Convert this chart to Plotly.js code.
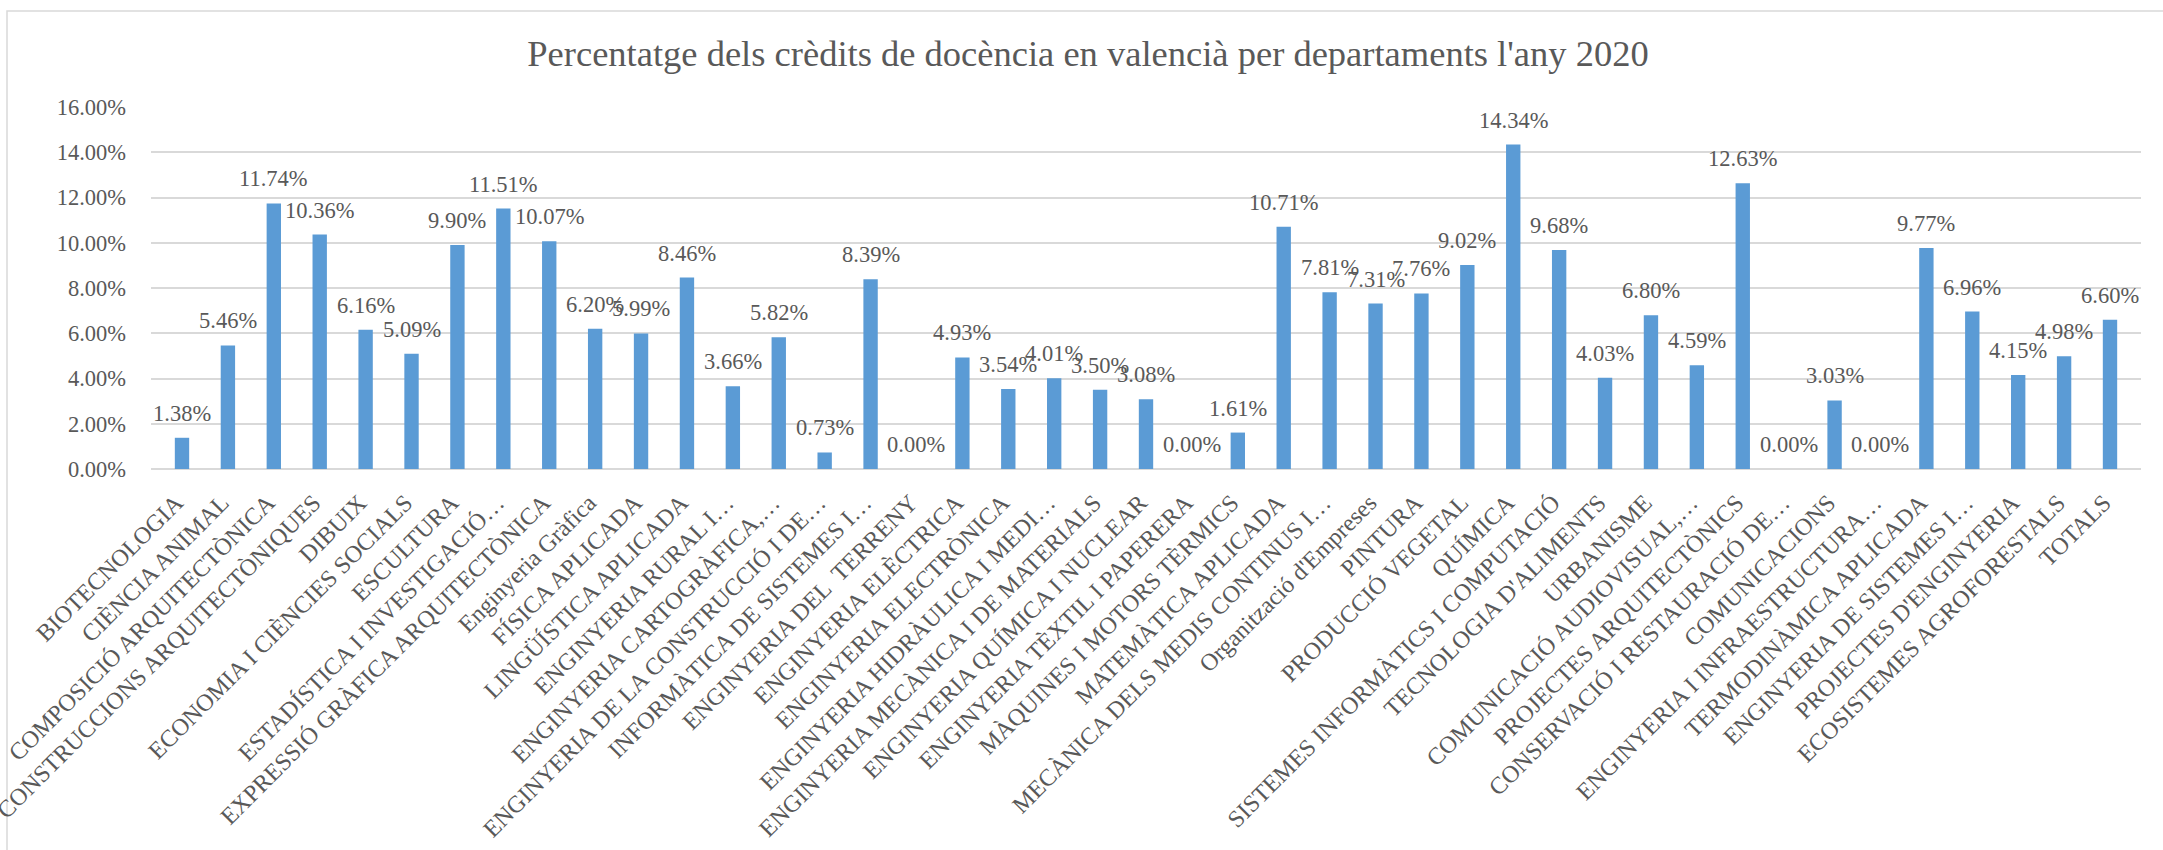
<!DOCTYPE html>
<html>
<head>
<meta charset="utf-8">
<script src="https://cdn.plot.ly/plotly-3.0.1.min.js"></script>
<style>
  html, body { margin: 0; padding: 0; background: #ffffff; }
  #chart { width: 2163px; height: 850px; }
</style>
</head>
<body>
<div id="chart"></div>
<script>
const departments = [
  "BIOTECNOLOGIA",
  "CIÈNCIA ANIMAL",
  "COMPOSICIÓ ARQUITECTÒNICA",
  "CONSTRUCCIONS ARQUITECTÒNIQUES",
  "DIBUIX",
  "ECONOMIA I CIÈNCIES SOCIALS",
  "ESCULTURA",
  "ESTADÍSTICA I INVESTIGACIÓ…",
  "EXPRESSIÓ GRÀFICA ARQUITECTÒNICA",
  "Enginyeria Gràfica",
  "FÍSICA APLICADA",
  "LINGÜÍSTICA APLICADA",
  "ENGINYERIA RURAL I…",
  "ENGINYERIA CARTOGRÀFICA,…",
  "ENGINYERIA DE LA CONSTRUCCIÓ I DE…",
  "INFORMÀTICA DE SISTEMES I…",
  "ENGINYERIA DEL  TERRENY",
  "ENGINYERIA ELÈCTRICA",
  "ENGINYERIA ELECTRÒNICA",
  "ENGINYERIA HIDRÀULICA I MEDI…",
  "ENGINYERIA MECÀNICA I DE MATERIALS",
  "ENGINYERIA QUÍMICA I NUCLEAR",
  "ENGINYERIA TÈXTIL I PAPERERA",
  "MÀQUINES I MOTORS TÈRMICS",
  "MATEMÀTICA APLICADA",
  "MECÀNICA DELS MEDIS CONTINUS I…",
  "Organització d'Empreses",
  "PINTURA",
  "PRODUCCIÓ VEGETAL",
  "QUÍMICA",
  "SISTEMES INFORMÀTICS I COMPUTACIÓ",
  "TECNOLOGIA D'ALIMENTS",
  "URBANISME",
  "COMUNICACIÓ AUDIOVISUAL,…",
  "PROJECTES ARQUITECTÒNICS",
  "CONSERVACIÓ I RESTAURACIÓ DE…",
  "COMUNICACIONS",
  "ENGINYERIA I INFRAESTRUCTURA…",
  "TERMODINÀMICA APLICADA",
  "ENGINYERIA DE SISTEMES I…",
  "PROJECTES D'ENGINYERIA",
  "ECOSISTEMES AGROFORESTALS",
  "TOTALS"
];

const percentValencia = [
  0.0138, 0.0546, 0.1174, 0.1036, 0.0616, 0.0509, 0.0990, 0.1151, 0.1007, 0.0620,
  0.0599, 0.0846, 0.0366, 0.0582, 0.0073, 0.0839, 0.0000, 0.0493, 0.0354, 0.0401,
  0.0350, 0.0308, 0.0000, 0.0161, 0.1071, 0.0781, 0.0731, 0.0776, 0.0902, 0.1434,
  0.0968, 0.0403, 0.0680, 0.0459, 0.1263, 0.0000, 0.0303, 0.0000, 0.0977, 0.0696,
  0.0415, 0.0498, 0.0660
];

const yTickValues = [0, 0.02, 0.04, 0.06, 0.08, 0.10, 0.12, 0.14, 0.16];

const chartTitle = "Percentatge dels crèdits de docència en valencià per departaments l'any 2020";

const FONT = "Liberation Serif";
const GREY = "#595959";

const trace = {
  type: "bar",
  x: departments,
  y: percentValencia,
  marker: { color: "#5b9bd5" },
  hoverinfo: "x+y"
};

const labelAnnotations = departments.map((d, i) => ({
  x: d,
  y: percentValencia[i],
  xref: "x",
  yref: "y",
  text: (percentValencia[i] * 100).toFixed(2) + "%",
  showarrow: false,
  yanchor: "bottom",
  xanchor: "center",
  yshift: 10,
  font: { family: FONT, size: 22.5, color: GREY }
}));

const layout = {
  width: 2163,
  height: 850,
  font: { family: FONT, color: GREY },
  paper_bgcolor: "#ffffff",
  plot_bgcolor: "#ffffff",
  margin: { l: 151, r: 22, t: 107, b: 381 },
  showlegend: false,
  bargap: 0.687,
  title: {
    text: chartTitle,
    font: { family: FONT, size: 36.5, color: GREY },
    xref: "container",
    x: 0.503,
    xanchor: "center",
    yref: "container",
    y: 1 - 53 / 850,
    yanchor: "middle"
  },
  xaxis: {
    type: "category",
    tickangle: -45,
    tickfont: { family: FONT, size: 24, color: GREY },
    showgrid: false,
    showline: false,
    ticks: "",
    ticklabelstandoff: 14,
    ticklabelshift: -6,
    automargin: false
  },
  yaxis: {
    range: [0, 0.16],
    tickvals: yTickValues,
    tickformat: ".2%",
    tickfont: { family: FONT, size: 22.5, color: GREY },
    showgrid: true,
    gridcolor: "#d9d9d9",
    gridwidth: 2,
    zeroline: true,
    zerolinecolor: "#d9d9d9",
    zerolinewidth: 2,
    showline: false,
    ticks: "",
    ticklabelstandoff: 24,
    automargin: false
  },
  annotations: labelAnnotations,
  shapes: [{
    type: "rect",
    xref: "paper", yref: "paper",
    x0: (7 - 151) / 1990, x1: (2175 - 151) / 1990,
    y0: (469 - 860) / 362, y1: 1 + (107 - 11) / 362,
    line: { color: "#d9d9d9", width: 1.5 },
    fillcolor: "rgba(0,0,0,0)",
    layer: "below"
  }]
};

Plotly.newPlot("chart", [trace], layout, { displayModeBar: false, staticPlot: true });
</script>
</body>
</html>
